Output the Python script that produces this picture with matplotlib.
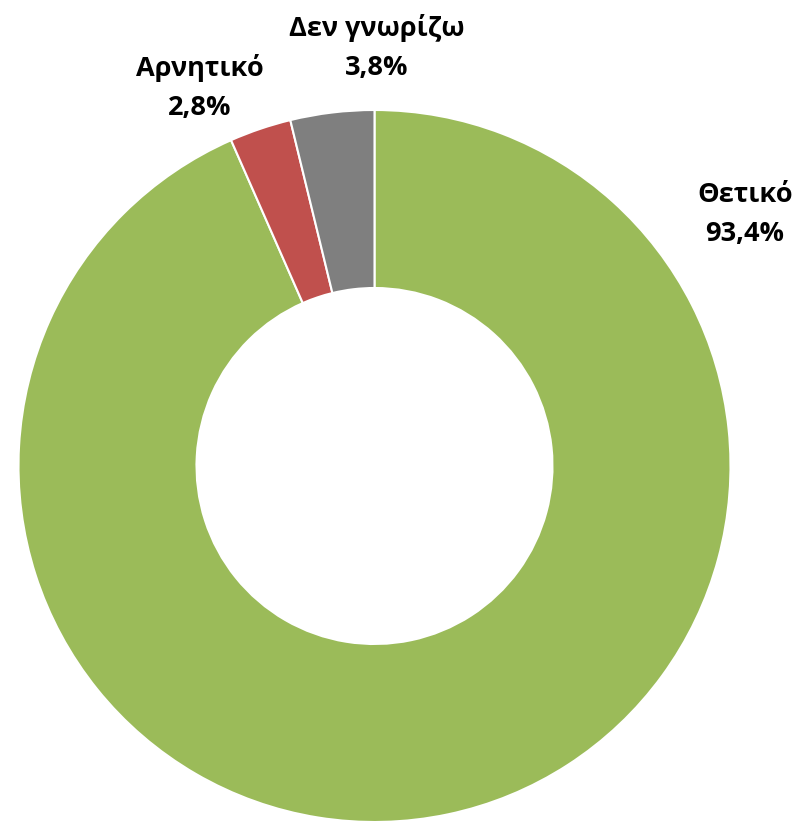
import matplotlib.pyplot as plt

labels = ["Θετικό", "Αρνητικό", "Δεν γνωρίζω"]
values = [93.4, 2.8, 3.8]
pct_text = ["93,4%", "2,8%", "3,8%"]
colors = ["#9BBB59", "#C0504D", "#7F7F7F"]
# label centre positions in pixel coords (x, y from top)
label_pos = [(745, 215), (200, 88), (377, 47)]

W, H = 803, 831
fig = plt.figure(figsize=(W / 100, H / 100), dpi=100)
ax = fig.add_axes([0, 0, 1, 1])

ax.pie(values, colors=colors, startangle=90, counterclock=False,
       center=(374.5, H - 466), radius=356,
       wedgeprops=dict(width=178, edgecolor="white", linewidth=1.5))

for lab, pct, (x, y) in zip(labels, pct_text, label_pos):
    ax.text(x, H - y, lab + "\n" + pct, ha="center", va="center",
            fontsize=19.5, fontweight="bold", family="Open Sans",
            linespacing=1.65, color="black")

ax.set_xlim(0, W)
ax.set_ylim(0, H)
ax.set_aspect("equal")
ax.axis("off")

fig.savefig("out.png", dpi=100, facecolor="white")
